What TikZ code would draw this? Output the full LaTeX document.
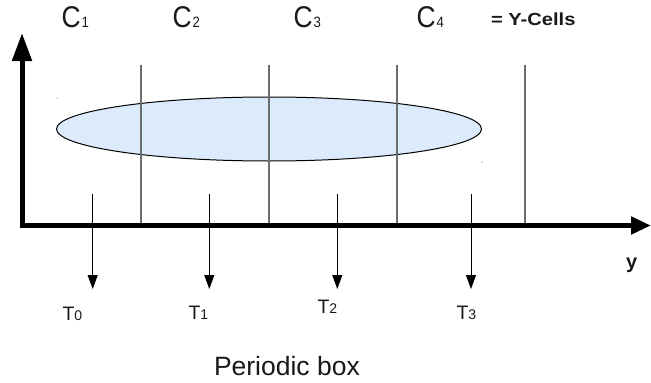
\documentclass[tikz,border=0pt]{standalone}
\usepackage{fontspec}
\setmainfont{Liberation Sans}
\newfontfamily\cfont[FakeStretch=0.88]{Liberation Sans}
\newfontfamily\yfont[FakeStretch=1.15]{Liberation Sans}
\usetikzlibrary{arrows.meta}
\definecolor{cellgray}{RGB}{110,110,110}
\definecolor{ellfill}{RGB}{220,235,252}
\definecolor{txt}{RGB}{25,25,25}
\begin{document}
\begin{tikzpicture}[x=1pt,y=-1pt,
  axis/.style={line width=5pt, line join=miter},
  cellline/.style={draw=cellgray, line width=1.2pt},
  tarrow/.style={line width=1pt, -{Triangle[length=14pt,width=10pt]}},
  lbl/.style={anchor=base west, inner sep=0pt, outer sep=0pt, text=txt}]
\useasboundingbox (0,0) rectangle (651,383);
\fill[white] (0,0) rectangle (651,383);

% ellipse (periodic box)
\coordinate (boxc) at (269,129);
\draw[line width=1pt, fill=ellfill] (boxc) ellipse [x radius=212.5, y radius=32];
\fill[gray] (57,98) circle (0.6);
\fill[gray] (482,162) circle (0.6);

% cell boundaries
\foreach \i/\x in {1/141,2/269,3/397,4/525}{
  \coordinate (c\i t) at (\x,65);
  \coordinate (c\i b) at (\x,225);
  \draw[cellline] (c\i t) -- (c\i b);
}

% axes
\coordinate (ytop) at (22,33);
\coordinate (xend) at (651,225.5);
\draw[axis, {Triangle[length=28pt,width=19pt]}-{Triangle[length=20pt,width=17pt]}] (ytop) |- (xend);

% T arrows
\foreach \i/\x in {0/92.7,1/209.3,2/337.3,3/471}{
  \coordinate (t\i s) at (\x,194);
  \coordinate (t\i e) at (\x,289);
  \draw[tarrow] (t\i s) -- (t\i e);
}

% labels
\node[lbl] (C1) at (61.5,27) {\cfont\fontsize{30}{30}\selectfont C\hspace{1pt}\fontsize{15}{15}\selectfont 1};
\node[lbl] (C2) at (172.5,27) {\cfont\fontsize{30}{30}\selectfont C\hspace{1pt}\fontsize{15}{15}\selectfont 2};
\node[lbl] (C3) at (293.5,27) {\cfont\fontsize{30}{30}\selectfont C\hspace{1pt}\fontsize{15}{15}\selectfont 3};
\node[lbl] (C4) at (416.5,27) {\cfont\fontsize{30}{30}\selectfont C\hspace{1pt}\fontsize{15}{15}\selectfont 4};
\node[lbl] (ycells) at (491,25) {\yfont\bfseries\fontsize{17.5}{17.5}\selectfont = Y-Cells};

\node[lbl] (T0) at (62.5,320) {\fontsize{19.5}{19.5}\selectfont T\fontsize{14}{14}\selectfont 0};
\node[lbl] (T1) at (188.5,319) {\fontsize{19.5}{19.5}\selectfont T\fontsize{14}{14}\selectfont 1};
\node[lbl] (T2) at (317.5,313) {\fontsize{19.5}{19.5}\selectfont T\fontsize{14}{14}\selectfont 2};
\node[lbl] (T3) at (456.5,319) {\fontsize{19.5}{19.5}\selectfont T\fontsize{14}{14}\selectfont 3};

\node[lbl] (ylab) at (626,268) {\bfseries\fontsize{20}{20}\selectfont y};
\node[lbl] (pbox) at (214,375) {\fontsize{26.5}{26.5}\selectfont Periodic box};
\end{tikzpicture}
\end{document}
